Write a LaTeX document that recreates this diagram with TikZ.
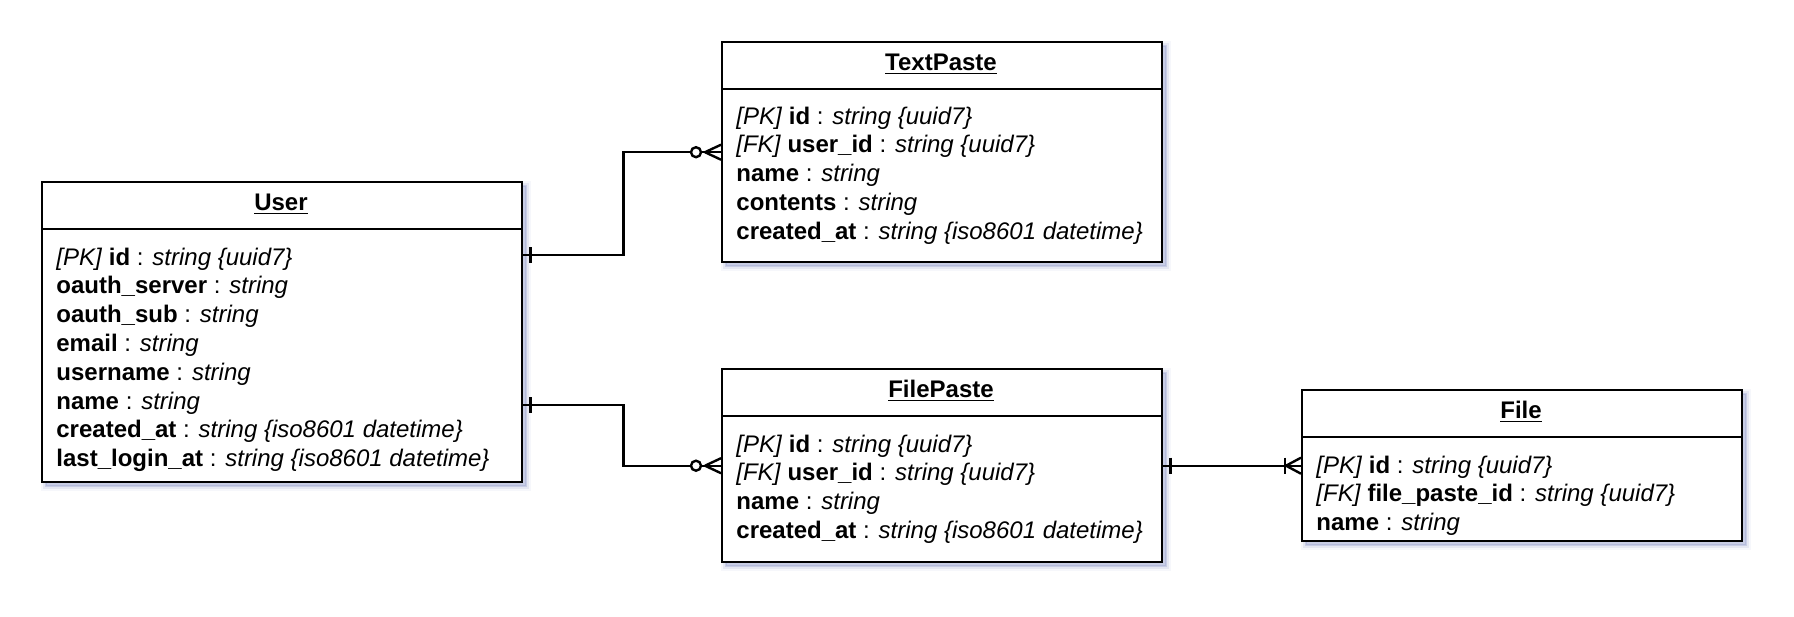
\documentclass[tikz,border=0pt]{standalone}
\usepackage{fontspec}
\setmainfont{Liberation Sans}
\usetikzlibrary{calc}
\definecolor{shc}{RGB}{140,150,200}
\tikzset{
  ent/.style={draw=black, line width=1.2pt, fill=white, inner sep=0pt, anchor=north west,
    preaction={fill=shc, draw=shc, line width=1pt, opacity=.32, transform canvas={xshift=2pt,yshift=-2pt}},
    preaction={draw=shc, line width=3pt, opacity=.16, transform canvas={xshift=2pt,yshift=-2pt}},
    preaction={draw=shc, line width=5pt, opacity=.08, transform canvas={xshift=2pt,yshift=-2pt}}},
  enttitle/.style={font=\fontsize{12}{14.4}\selectfont\bfseries, anchor=base, inner sep=0pt},
  attrs/.style={align=left, anchor=base west, inner sep=0pt, font=\fontsize{12}{14.4}\selectfont},
  conn/.style={line width=1.2pt, draw=black},
}
\newcommand\hdiv[1]{\draw[conn] ($(#1.north west)+(0,48)$) -- ($(#1.north east)+(0,48)$);}
\newcommand\onebar[2]{\draw[conn] ($(#1)+(#2*7,-8)$) -- ($(#1)+(#2*7,8)$);}
\newcommand\zeromany[1]{%
  \draw[conn] ($(#1)+(-16,0)$) -- ($(#1)+(0,-7.5)$) ($(#1)+(-16,0)$) -- ($(#1)+(0,7.5)$);
  \draw[conn, fill=white] ($(#1)+(-25,0)$) circle (2.5pt);}
\newcommand\onemany[1]{%
  \draw[conn] ($(#1)+(-15,0)$) -- ($(#1)+(0,-8)$) ($(#1)+(-15,0)$) -- ($(#1)+(0,8)$);
  \draw[conn] ($(#1)+(-16,-8)$) -- ($(#1)+(-16,8)$);}
\begin{document}
\begin{tikzpicture}[x=0.5pt,y=-0.5pt]
\useasboundingbox (0,0) rectangle (1794,616);
% entities
\node[ent, minimum width=240pt, minimum height=150pt] (user) at (41,181) {};
\node[ent, minimum width=220pt, minimum height=110pt] (tp) at (721,41) {};
\node[ent, minimum width=220pt, minimum height=96.5pt] (fp) at (721,368) {};
\node[ent, minimum width=220pt, minimum height=75.5pt] (file) at (1301,389) {};
\hdiv{user}\hdiv{tp}\hdiv{fp}\hdiv{file}
% titles
\node[enttitle] (usert) at (281,210) {\underline{User}};
\node[enttitle] (tpt) at (941,70) {\underline{TextPaste}};
\node[enttitle] (fpt) at (941,397) {\underline{FilePaste}};
\node[enttitle] (filet) at (1521,418) {\underline{File}};
% attributes (anchor = baseline of the last line)
\node[attrs] (usera) at (56,466.6) {\textit{[PK]} \textbf{id} : \textit{string \{uuid7\}}\\
\textbf{oauth\_server} : \textit{string}\\
\textbf{oauth\_sub} : \textit{string}\\
\textbf{email} : \textit{string}\\
\textbf{username} : \textit{string}\\
\textbf{name} : \textit{string}\\
\textbf{created\_at} : \textit{string \{iso8601 datetime\}}\\
\textbf{last\_login\_at} : \textit{string \{iso8601 datetime\}}};
\node[attrs] (tpa) at (736,239.2) {\textit{[PK]} \textbf{id} : \textit{string \{uuid7\}}\\
\textit{[FK]} \textbf{user\_id} : \textit{string \{uuid7\}}\\
\textbf{name} : \textit{string}\\
\textbf{contents} : \textit{string}\\
\textbf{created\_at} : \textit{string \{iso8601 datetime\}}};
\node[attrs] (fpa) at (736,538.4) {\textit{[PK]} \textbf{id} : \textit{string \{uuid7\}}\\
\textit{[FK]} \textbf{user\_id} : \textit{string \{uuid7\}}\\
\textbf{name} : \textit{string}\\
\textbf{created\_at} : \textit{string \{iso8601 datetime\}}};
\node[attrs] (filea) at (1316,530.6) {\textit{[PK]} \textbf{id} : \textit{string \{uuid7\}}\\
\textit{[FK]} \textbf{file\_paste\_id} : \textit{string \{uuid7\}}\\
\textbf{name} : \textit{string}};
% connectors
\coordinate (u1) at ($(user.north east)+(0,74)$);
\coordinate (u2) at ($(user.north east)+(0,224)$);
\draw[conn] (u1) -- ++(100,0) |- (tp.west);
\draw[conn] (u2) -- ++(100,0) |- (fp.west);
\draw[conn] (fp.east) -- (file.west);
\onebar{u1}{1}
\onebar{u2}{1}
\onebar{fp.east}{1}
\zeromany{tp.west}
\zeromany{fp.west}
\onemany{file.west}
\end{tikzpicture}
\end{document}
